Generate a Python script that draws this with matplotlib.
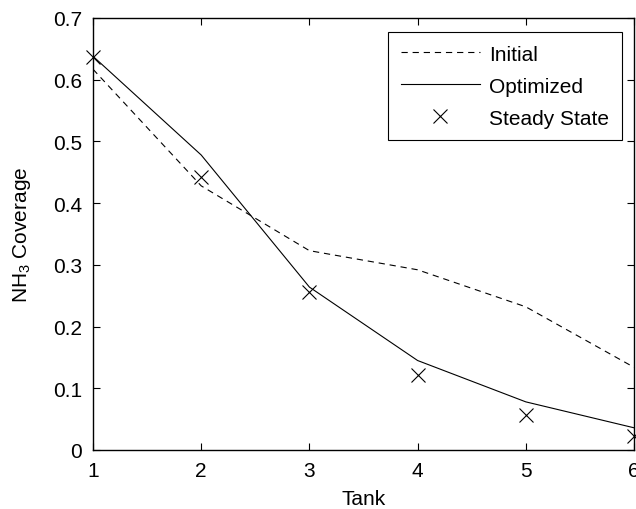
import numpy as np
import matplotlib
matplotlib.use("Agg")
import matplotlib.pyplot as plt

plt.rcParams['font.family'] = ['Liberation Sans', 'DejaVu Sans']
plt.rcParams['mathtext.fontset'] = 'custom'
plt.rcParams['mathtext.rm'] = 'Liberation Sans'
plt.rcParams['mathtext.it'] = 'Liberation Sans'
plt.rcParams['lines.scale_dashes'] = False

# NH3 coverage per tank
tank = [1, 2, 3, 4, 5, 6]
initial = [0.617, 0.428, 0.323, 0.292, 0.232, 0.134]
optimized = [0.638, 0.478, 0.264, 0.145, 0.078, 0.036]
steady_state = [0.637, 0.442, 0.256, 0.122, 0.056, 0.023]

fig = plt.figure(figsize=(6.36, 5.10), dpi=100)
ax = fig.add_axes([93/636, 59/510, 541/636, 432/510])

ax.plot(tank, initial, color='black', lw=0.8, dashes=(4.5, 3.5), label='Initial')
ax.plot(tank, optimized, color='black', lw=0.8, label='Optimized')
ax.plot(tank, steady_state, ls='none', marker='x', ms=9.5, mew=0.8,
        color='black', label='Steady State', clip_on=False)

ax.set_xlim(1, 6)
ax.set_ylim(0, 0.7)
ax.set_xticks(tank)
ax.set_yticks(np.arange(0, 0.71, 0.1))
ax.set_yticklabels(['0', '0.1', '0.2', '0.3', '0.4', '0.5', '0.6', '0.7'])
ax.tick_params(direction='in', top=True, right=True, length=5, width=0.8,
               labelsize=15, pad=8)
for s in ax.spines.values():
    s.set_linewidth(1.0)

ax.set_xlabel('Tank', fontsize=15, labelpad=6.5)
ax.set_ylabel('NH$_3$ Coverage', fontsize=15, labelpad=14)

leg = ax.legend(loc='upper right', bbox_to_anchor=(0.978, 0.968), borderaxespad=0,
                fontsize=15, fancybox=False, edgecolor='black', framealpha=1,
                handlelength=3.8, handletextpad=0.45, labelspacing=0.62,
                borderpad=0.62)
leg.get_frame().set_linewidth(0.8)

fig.savefig('out.png', dpi=100)
